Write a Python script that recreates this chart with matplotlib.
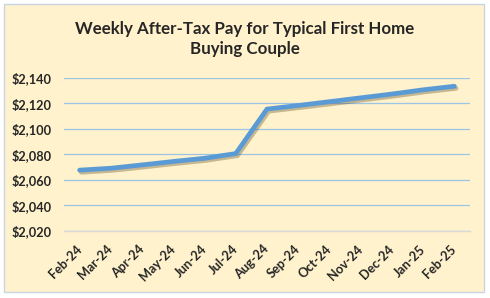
import matplotlib
matplotlib.use("Agg")
import matplotlib.pyplot as plt
import matplotlib.patheffects as pe
from matplotlib.patches import Rectangle
from matplotlib.ticker import FuncFormatter

months = ["Feb-24", "Mar-24", "Apr-24", "May-24", "Jun-24", "Jul-24", "Aug-24",
          "Sep-24", "Oct-24", "Nov-24", "Dec-24", "Jan-25", "Feb-25"]
pay = [2067.5, 2069, 2071.6, 2074.3, 2076.8, 2080.5, 2115.4,
       2118.2, 2121.2, 2124.2, 2127.2, 2130.5, 2133.3]
yticks = [2020, 2040, 2060, 2080, 2100, 2120, 2140]
title = "Weekly After-Tax Pay for Typical First Home\nBuying Couple"

plt.rcParams['font.family'] = ['Lato', 'DejaVu Sans']
W, H = 490, 298
fig = plt.figure(figsize=(W / 100, H / 100), dpi=100)
fig.patch.set_facecolor('white')
fig.patches.append(Rectangle((4 / W, 1 - 292 / H), 480 / W, 288 / H,
                             transform=fig.transFigure, facecolor='#FFF2CC',
                             edgecolor='#C8D4E3', linewidth=1.0, zorder=-5))

ax = fig.add_axes([64 / W, 1 - 230.7 / H, 406 / W, 153 / H])
ax.set_zorder(2)
ax.set_facecolor('none')
x = list(range(len(months)))
ax.plot(x, pay, color='#5B9BD5', linewidth=3.4, solid_capstyle='round',
        solid_joinstyle='round', zorder=3,
        path_effects=[pe.SimpleLineShadow(offset=(1.2, -1.5), shadow_color='#5a4a20', alpha=0.35),
                      pe.Normal()])
ax.set_xlim(-0.5, len(months) - 0.5)
ax.set_ylim(2020, 2140)
ax.set_yticks(yticks)
ax.yaxis.set_major_formatter(FuncFormatter(lambda v, p: f"${v:,.0f}"))
ax.grid(axis='y', color='#9DC3E6', linewidth=0.9)
ax.set_axisbelow(True)
for s in ['top', 'right', 'left']:
    ax.spines[s].set_visible(False)
ax.spines['bottom'].set_color('#D9D9D9')
ax.spines['bottom'].set_linewidth(1.0)
ax.spines['bottom'].set_zorder(2)
ax.tick_params(axis='both', length=0, colors='#262626')
ax.tick_params(axis='y', pad=9, labelsize=9.2)
ax.set_xticks(x)
ax.set_xticklabels(months, rotation=45, ha='right', va='center', rotation_mode='anchor',
                   fontsize=9.2, fontweight='bold')
ax.tick_params(axis='x', pad=12)
for t in ax.get_yticklabels():
    t.set_fontweight('bold')
fig.text(244.5 / W, 1 - 39 / H, title, ha='center', va='center', fontsize=12.2,
         fontweight='bold', color='#262626', linespacing=1.32, zorder=3)
fig.savefig('out.png', dpi=100, facecolor='white')
